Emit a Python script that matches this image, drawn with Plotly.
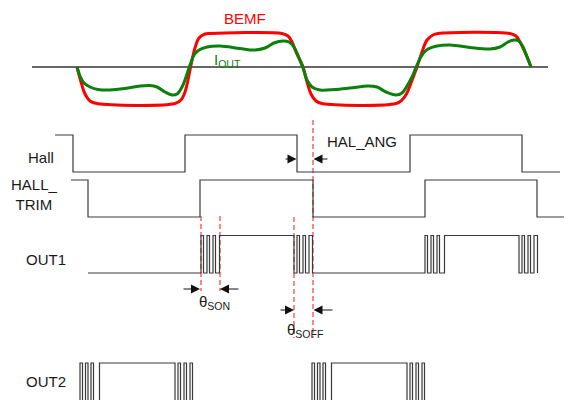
import plotly.graph_objects as go

# horizontal axis: time along the diagram (same units as the 572 px canvas)
ZERO_Y = 67

# BEMF and motor current, as offset above the zero line
bemf_t = [77, 81, 85, 90, 97, 175, 181, 185, 188, 191, 195, 199, 205, 210,
          282, 288, 292, 296, 303, 307, 311, 316, 322, 396, 402, 407, 411, 417,
          422, 427, 433, 438, 510, 516, 520, 524, 528, 531]
bemf_v = [0, -15, -27, -34, -36.5, -36.5, -33, -25, -13, 2, 19, 29, 33, 33.5,
          33.5, 31, 25, 15, 0, -15, -27, -34, -36.5, -36.5, -33, -26, -16, 0,
          15, 27, 32, 33.5, 33.5, 31, 25, 17, 8, 0]

iout_t = [77, 80, 84, 90, 98, 110, 125, 140, 150, 157, 165, 172, 177, 182,
          186, 190, 194, 199, 207, 220, 240, 255, 265, 274, 283, 289, 294, 299,
          303, 307, 312, 320, 335, 350, 368, 377, 386, 396, 402, 407, 412, 417,
          422, 428, 437, 450, 470, 490, 500, 508, 514, 519, 523, 527, 531]
iout_v = [0, -9, -16, -20, -22.5, -23, -21.5, -19, -18.5, -20, -25, -28, -27,
          -20, -10, 2, 12, 17, 20, 21, 18.5, 17, 19, 24, 26, 25, 20, 9, -1,
          -13, -20, -23, -22.5, -21, -19, -20, -25, -28, -26, -19, -10, 2, 12,
          18, 21, 22, 19.5, 18, 20, 25, 27, 26, 20, 10, 0]

# digital signals: edge times and the level after each edge
hall_t = [55, 73, 185, 297, 410, 522, 560]
hall_lvl = [1, 0, 1, 0, 1, 0, 0]

trim_t = [71, 88, 200, 313, 425, 537, 572]
trim_lvl = [1, 0, 1, 0, 1, 0, 0]

out1_t = [88,
          201, 203.5, 207, 209.5, 213, 215.5, 219.5,
          294, 297, 299.5, 303, 305.5, 309, 312.5,
          425, 427.5, 431, 433.5, 437, 439.5, 444.5,
          519, 522, 524.5, 528, 530.5, 534, 537.5]
out1_lvl = [0,
            1, 0, 1, 0, 1, 0, 1,
            0, 1, 0, 1, 0, 1, 0,
            1, 0, 1, 0, 1, 0, 1,
            0, 1, 0, 1, 0, 1, 0]

out2_t = [80, 80, 82.5, 85.5, 88, 91, 93.5, 99.5,
          175, 178, 180.5, 184, 186.5, 190, 192.5,
          312, 312, 314.5, 317.5, 320, 323, 325.5, 331.5,
          407, 410, 412.5, 416, 418.5, 422, 424.5]
out2_lvl = [0, 1, 0, 1, 0, 1, 0, 1,
            0, 1, 0, 1, 0, 1, 0,
            0, 1, 0, 1, 0, 1, 0, 1,
            0, 1, 0, 1, 0, 1, 0]

# angle markers (red dashed guides)
mark_t = [201, 220, 294, 313]
mark_top = [216, 216, 217, 120]
mark_bot = [291, 291, 338, 338]

# row placement: (low y, high-level height)
ROW_HALL = (172, 37)
ROW_TRIM = (217, 37)
ROW_OUT1 = (273, 37.5)
ROW_OUT2 = (404, 41)

SIG = "#3a3a3a"
FONT = "Liberation Sans, Arial, sans-serif"
PAGE_PAD = 8  # default body margin of the html page


def step(t, lvl, row):
    low, amp = row
    return go.Scatter(x=t, y=[low - amp * v for v in lvl], mode="lines",
                      line=dict(color=SIG, width=1.2, shape="hv"),
                      hoverinfo="skip", showlegend=False)


fig = go.Figure()

for t, top, bot in zip(mark_t, mark_top, mark_bot):
    fig.add_trace(go.Scatter(x=[t, t], y=[top, bot], mode="lines",
                             line=dict(color="#ff3b3b", width=1.2, dash="5px,3px"),
                             hoverinfo="skip", showlegend=False))

fig.add_trace(go.Scatter(x=[32, 548], y=[ZERO_Y, ZERO_Y], mode="lines",
                         line=dict(color="#333333", width=1.3),
                         hoverinfo="skip", showlegend=False))
fig.add_trace(go.Scatter(x=bemf_t, y=[ZERO_Y - v for v in bemf_v], mode="lines",
                         line=dict(color="#ff0000", width=3, shape="spline"),
                         hoverinfo="skip", showlegend=False))
fig.add_trace(go.Scatter(x=iout_t, y=[ZERO_Y - v for v in iout_v], mode="lines",
                         line=dict(color="#0b800b", width=3, shape="spline"),
                         hoverinfo="skip", showlegend=False))

fig.add_trace(step(hall_t, hall_lvl, ROW_HALL))
fig.add_trace(step(trim_t, trim_lvl, ROW_TRIM))
fig.add_trace(step(out1_t, out1_lvl, ROW_OUT1))
fig.add_trace(step(out2_t, out2_lvl, ROW_OUT2))


def label(x, y, text, color="#1a1a1a", anchor="center", size=15):
    fig.add_annotation(x=x, y=y, text=text, showarrow=False, xanchor=anchor,
                       yanchor="middle", font=dict(family=FONT, size=size, color=color))


label(244.5, 18, "BEMF", color="#ff0000")
label(227, 60, "I<sub>OUT</sub>", color="#0b800b")
label(55.5, 157, "Hall", anchor="right")
label(34, 194.5, "HALL_<br>TRIM")
label(46, 259, "OUT1")
label(46, 381, "OUT2")
label(325, 141, "HAL_ANG", anchor="left")
label(214, 302, "θ<sub>SON</sub>")
label(305, 330, "θ<sub>SOFF</sub>")


def arrow(tip, tail, y):
    fig.add_annotation(x=tip, y=y, ax=tail, ay=y, axref="x", ayref="y",
                       text="", showarrow=True, arrowhead=2, arrowsize=1.8,
                       arrowwidth=1, arrowcolor="#111111", standoff=0)


arrow(296.5, 284, 159)
arrow(313.5, 329, 159)
arrow(200, 182, 289)
arrow(220, 240, 289)
arrow(294, 279, 310)
arrow(313.5, 334, 310)

fig.update_layout(
    width=572, height=400,
    margin=dict(l=0, r=0, t=0, b=0),
    paper_bgcolor="white", plot_bgcolor="white",
    xaxis=dict(range=[PAGE_PAD, 572 + PAGE_PAD], visible=False, fixedrange=True),
    yaxis=dict(range=[400 + PAGE_PAD, PAGE_PAD], visible=False, fixedrange=True),
    hovermode=False,
)

fig.write_html("out.html")
